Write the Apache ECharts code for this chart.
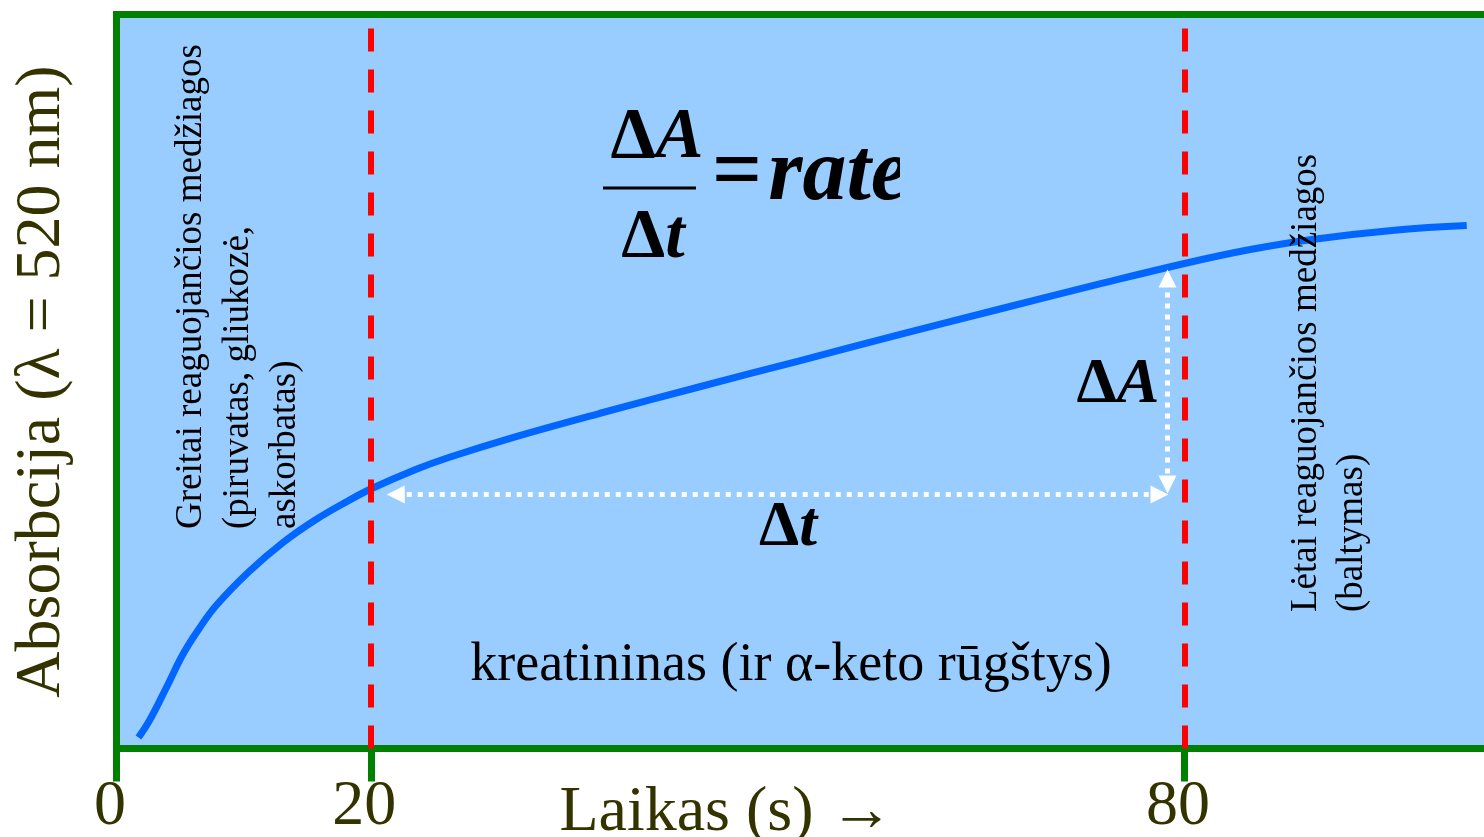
<!DOCTYPE html>
<html>
<head>
<meta charset="utf-8">
<script src="https://cdn.jsdelivr.net/npm/echarts@6/dist/echarts.min.js"></script>
<style>
html,body{margin:0;padding:0;background:#ffffff;}
#chart{width:1484px;height:837px;}
</style>
</head>
<body>
<div id="chart"></div>
<script>
// ---- data ----
const timeS = [2.87, 3.68, 4.93, 6.18, 7.35, 8.60, 11.03, 13.53, 15.96, 18.38, 20.07, 23.31, 25.74, 30.22, 36.84, 44.19, 51.54, 58.90, 66.25, 73.60, 80.00, 84.85, 89.41, 95.66, 100.81];
const absorbance = [1.50, 3.81, 8.31, 12.94, 16.35, 19.48, 24.11, 28.07, 31.20, 33.79, 35.42, 38.01, 39.65, 42.23, 45.64, 49.25, 52.79, 56.34, 59.81, 63.22, 66.08, 67.98, 69.35, 70.64, 71.25];
const tickPositions = [1.25, 20, 80];
const tickLabels = ['0', '20', '80'];
const windowLines = [20, 80];
const deltaTRange = [21.84, 78.16];
const deltaTLevel = 34.6;
const deltaAX = 78.75;
const deltaARange = [35.97, 64.03];
const xRange = [1.25, 103];
const yRange = [0, 100];

const xTitle = 'Laikas (s) \u2192';
const yTitle = 'Absorbcija (\u03bb = 520 nm)';
const fastText = 'Greitai reaguojančios medžiagos\n(piruvatas, gliukozė,\naskorbatas)';
const slowText = 'Lėtai reaguojančios medžiagos\n(baltymas)';
const midText = 'kreatininas (ir \u03b1-keto rūgštys)';

const SERIF = "'Liberation Serif','Times New Roman',serif";
const DARK = '#333300';
const BG = '#99CCFF';
const GREEN = '#008000';

const chart = echarts.init(document.getElementById('chart'), null, {renderer: 'canvas'});

const labelMap = {};
tickPositions.forEach((p, i) => { labelMap[p] = tickLabels[i]; });

const option = {
  animation: false,
  backgroundColor: '#ffffff',
  grid: {
    left: 116.5, top: 14.5, right: -12.4, bottom: 88.5,
    show: true, backgroundColor: BG, borderColor: GREEN, borderWidth: 7,
    outerBoundsMode: 'none', containLabel: false
  },
  xAxis: {
    type: 'value', min: xRange[0], max: xRange[1],
    name: xTitle, nameLocation: 'middle', nameGap: 33, nameMoveOverlap: false,
    nameTextStyle: {fontFamily: SERIF, fontSize: 64, color: DARK, padding: [0, 160, 0, 0]},
    axisLine: {show: false},
    splitLine: {show: false},
    axisTick: {show: true, customValues: tickPositions, length: 33, lineStyle: {color: GREEN, width: 7}},
    axisLabel: {
      show: true, customValues: tickPositions, margin: 27,
      fontFamily: SERIF, fontSize: 64, color: DARK, padding: [0, 13, 0, 0],
      formatter: v => labelMap[v] !== undefined ? labelMap[v] : ''
    }
  },
  yAxis: {
    type: 'value', min: yRange[0], max: yRange[1],
    name: yTitle, nameLocation: 'middle', nameGap: 42, nameRotate: 90,
    nameTextStyle: {fontFamily: SERIF, fontSize: 64, color: DARK},
    axisLine: {show: false}, axisTick: {show: false}, axisLabel: {show: false}, splitLine: {show: false}
  },
  series: [
    {
      type: 'line', name: 'absorbance',
      data: timeS.map((t, i) => [t, absorbance[i]]),
      smooth: 0.4, showSymbol: false, symbol: 'none',
      lineStyle: {color: '#0066FF', width: 7},
      z: 3
    },
    {
      type: 'line', name: 'window', data: [], z: 5,
      markLine: {
        silent: true, symbol: 'none', label: {show: false},
        lineStyle: {color: '#FF0000', width: 6, type: [23, 18]},
        data: windowLines.map(v => ({xAxis: v}))
      }
    },
    {
      type: 'line', name: 'deltas', data: [], z: 6,
      markLine: {
        silent: true, symbol: ['triangle', 'triangle'], symbolSize: [18, 18],
        label: {show: false},
        lineStyle: {color: '#FFFFFF', width: 5, type: [5, 6]},
        data: [
          [{coord: [deltaTRange[0], deltaTLevel]}, {coord: [deltaTRange[1], deltaTLevel]}],
          [{coord: [deltaAX, deltaARange[0]]}, {coord: [deltaAX, deltaARange[1]]}]
        ]
      }
    }
  ],
  graphic: [
    {type: 'text', x: 168, y: 529, rotation: Math.PI / 2, z: 10,
      style: {text: fastText, font: '37px ' + SERIF, lineHeight: 47, fill: '#000', textAlign: 'left', textVerticalAlign: 'top'}},
    {type: 'text', x: 1283, y: 612, rotation: Math.PI / 2, z: 10,
      style: {text: slowText, font: '37px ' + SERIF, lineHeight: 46, fill: '#000', textAlign: 'left', textVerticalAlign: 'top'}},
    {type: 'text', x: 791, y: 666, z: 10,
      style: {text: midText, font: '54px ' + SERIF, fill: '#000', textAlign: 'center', textVerticalAlign: 'middle'}},
    // formula
    {type: 'text', x: 657, y: 138, z: 10,
      style: {text: '{d|\u0394}{a|A}', textAlign: 'center', textVerticalAlign: 'middle',
        rich: {d: {font: 'bold 72px ' + SERIF, fill: '#000'}, a: {font: 'italic bold 72px ' + SERIF, fill: '#000'}}}},
    {type: 'line', z: 10, shape: {x1: 603, y1: 188, x2: 696, y2: 188}, style: {stroke: '#000', lineWidth: 3}},
    {type: 'text', x: 653, y: 239, z: 10,
      style: {text: '{d|\u0394}{a|t}', textAlign: 'center', textVerticalAlign: 'middle',
        rich: {d: {font: 'bold 70px ' + SERIF, fill: '#000'}, a: {font: 'italic bold 70px ' + SERIF, fill: '#000'}}}},
    {type: 'text', x: 712, y: 176, z: 10,
      style: {text: '{e|=}{a|rate}', textAlign: 'left', textVerticalAlign: 'middle',
        rich: {e: {font: 'bold 88px ' + SERIF, fill: '#000'}, a: {font: 'italic bold 88px ' + SERIF, fill: '#000', padding: [0, 0, 0, 6]}}}},
    {type: 'rect', z: 11, shape: {x: 900, y: 130, width: 70, height: 100}, style: {fill: BG}},
    // delta labels
    {type: 'text', x: 1118, y: 385, z: 10,
      style: {text: '{d|\u0394}{a|A}', textAlign: 'center', textVerticalAlign: 'middle',
        rich: {d: {font: 'bold 64px ' + SERIF, fill: '#000'}, a: {font: 'italic bold 64px ' + SERIF, fill: '#000'}}}},
    {type: 'text', x: 788, y: 528, z: 10,
      style: {text: '{d|\u0394}{a|t}', textAlign: 'center', textVerticalAlign: 'middle',
        rich: {d: {font: 'bold 64px ' + SERIF, fill: '#000'}, a: {font: 'italic bold 64px ' + SERIF, fill: '#000'}}}}
  ]
};
chart.setOption(option);
</script>
</body>
</html>
